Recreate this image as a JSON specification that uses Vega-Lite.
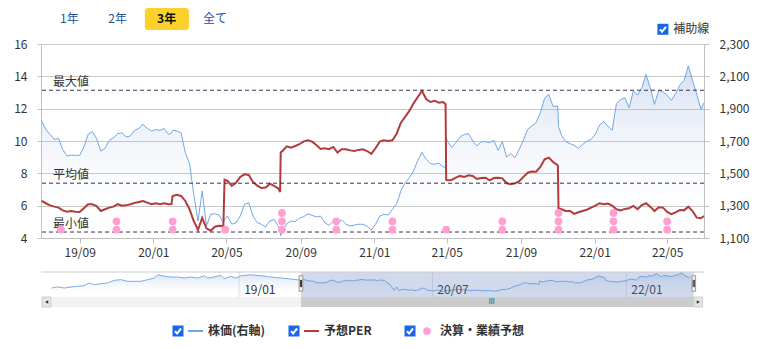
{
"$schema": "https://vega.github.io/schema/vega-lite/v6.json",
"background": "white",
"padding": {"left": 13, "top": 7, "right": 5, "bottom": 0},
"config": {
  "font": "Noto Sans CJK JP",
  "view": {"stroke": null},
  "axis": {"labelFont": "Noto Sans CJK JP", "labelFontSize": 12, "labelColor": "#333333", "title": null},
  "text": {"font": "Noto Sans CJK JP"}
},
"bounds": "flush",
"spacing": 14,
"datasets": {
  "px": [
    {"date":"2019-06-30","price":1824,"per":6.29},
    {"date":"2019-07-07","price":1770,"per":6.15},
    {"date":"2019-07-14","price":1741,"per":6.02},
    {"date":"2019-07-21","price":1710,"per":5.94},
    {"date":"2019-07-28","price":1716,"per":5.88},
    {"date":"2019-08-04","price":1648,"per":5.71},
    {"date":"2019-08-11","price":1607,"per":5.63},
    {"date":"2019-08-18","price":1613,"per":5.67},
    {"date":"2019-08-25","price":1611,"per":5.63},
    {"date":"2019-09-01","price":1611,"per":5.61},
    {"date":"2019-09-08","price":1663,"per":5.84},
    {"date":"2019-09-15","price":1741,"per":6.09},
    {"date":"2019-09-22","price":1758,"per":6.09},
    {"date":"2019-09-29","price":1716,"per":5.98},
    {"date":"2019-10-06","price":1638,"per":5.67},
    {"date":"2019-10-13","price":1655,"per":5.78},
    {"date":"2019-10-20","price":1704,"per":5.88},
    {"date":"2019-10-27","price":1721,"per":5.94},
    {"date":"2019-11-03","price":1745,"per":6.09},
    {"date":"2019-11-10","price":1751,"per":6.00},
    {"date":"2019-11-17","price":1725,"per":6.02},
    {"date":"2019-11-24","price":1731,"per":6.09},
    {"date":"2019-12-01","price":1766,"per":6.17},
    {"date":"2019-12-08","price":1778,"per":6.23},
    {"date":"2019-12-15","price":1803,"per":6.29},
    {"date":"2019-12-22","price":1778,"per":6.19},
    {"date":"2019-12-29","price":1762,"per":6.09},
    {"date":"2020-01-05","price":1770,"per":6.15},
    {"date":"2020-01-12","price":1766,"per":6.09},
    {"date":"2020-01-19","price":1778,"per":6.15},
    {"date":"2020-01-26","price":1741,"per":6.09},
    {"date":"2020-01-31","price":1750,"per":6.10},
    {"date":"2020-02-02","price":1766,"per":6.60},
    {"date":"2020-02-09","price":1762,"per":6.68},
    {"date":"2020-02-16","price":1751,"per":6.60},
    {"date":"2020-02-23","price":1628,"per":6.29},
    {"date":"2020-03-01","price":1560,"per":5.78},
    {"date":"2020-03-08","price":1370,"per":5.05},
    {"date":"2020-03-15","price":1205,"per":4.50},
    {"date":"2020-03-22","price":1391,"per":5.25},
    {"date":"2020-03-29","price":1174,"per":4.60},
    {"date":"2020-04-05","price":1246,"per":4.45},
    {"date":"2020-04-12","price":1250,"per":4.70},
    {"date":"2020-04-19","price":1242,"per":4.75},
    {"date":"2020-04-26","price":1195,"per":4.74},
    {"date":"2020-04-28","price":1215,"per":7.60},
    {"date":"2020-05-03","price":1236,"per":7.53},
    {"date":"2020-05-10","price":1185,"per":7.22},
    {"date":"2020-05-17","price":1195,"per":7.42},
    {"date":"2020-05-24","price":1236,"per":7.78},
    {"date":"2020-05-31","price":1308,"per":7.94},
    {"date":"2020-06-07","price":1318,"per":7.90},
    {"date":"2020-06-14","price":1236,"per":7.47},
    {"date":"2020-06-21","price":1195,"per":7.24},
    {"date":"2020-06-28","price":1185,"per":7.09},
    {"date":"2020-07-05","price":1168,"per":7.12},
    {"date":"2020-07-12","price":1205,"per":7.36},
    {"date":"2020-07-19","price":1215,"per":7.22},
    {"date":"2020-07-26","price":1174,"per":7.07},
    {"date":"2020-07-29","price":1150,"per":6.85},
    {"date":"2020-07-30","price":1115,"per":9.30},
    {"date":"2020-08-02","price":1143,"per":9.38},
    {"date":"2020-08-09","price":1189,"per":9.67},
    {"date":"2020-08-16","price":1205,"per":9.59},
    {"date":"2020-08-23","price":1201,"per":9.69},
    {"date":"2020-08-30","price":1222,"per":9.80},
    {"date":"2020-09-06","price":1232,"per":9.98},
    {"date":"2020-09-13","price":1250,"per":10.04},
    {"date":"2020-09-20","price":1240,"per":9.96},
    {"date":"2020-09-27","price":1230,"per":9.75},
    {"date":"2020-10-04","price":1236,"per":9.51},
    {"date":"2020-10-11","price":1195,"per":9.55},
    {"date":"2020-10-18","price":1178,"per":9.49},
    {"date":"2020-10-25","price":1205,"per":9.63},
    {"date":"2020-11-01","price":1199,"per":9.28},
    {"date":"2020-11-08","price":1211,"per":9.49},
    {"date":"2020-11-15","price":1185,"per":9.49},
    {"date":"2020-11-22","price":1174,"per":9.42},
    {"date":"2020-11-29","price":1180,"per":9.38},
    {"date":"2020-12-06","price":1185,"per":9.45},
    {"date":"2020-12-13","price":1185,"per":9.49},
    {"date":"2020-12-20","price":1174,"per":9.38},
    {"date":"2020-12-27","price":1150,"per":9.20},
    {"date":"2021-01-03","price":1185,"per":9.55},
    {"date":"2021-01-10","price":1236,"per":9.96},
    {"date":"2021-01-17","price":1246,"per":10.04},
    {"date":"2021-01-24","price":1242,"per":10.00},
    {"date":"2021-01-31","price":1277,"per":10.04},
    {"date":"2021-02-07","price":1312,"per":10.45},
    {"date":"2021-02-14","price":1391,"per":11.13},
    {"date":"2021-02-21","price":1442,"per":11.49},
    {"date":"2021-02-28","price":1473,"per":11.86},
    {"date":"2021-03-07","price":1514,"per":12.33},
    {"date":"2021-03-14","price":1580,"per":12.72},
    {"date":"2021-03-21","price":1628,"per":13.10},
    {"date":"2021-03-28","price":1587,"per":12.58},
    {"date":"2021-04-04","price":1560,"per":12.41},
    {"date":"2021-04-11","price":1556,"per":12.48},
    {"date":"2021-04-18","price":1564,"per":12.37},
    {"date":"2021-04-25","price":1539,"per":12.41},
    {"date":"2021-04-29","price":1540,"per":12.27},
    {"date":"2021-04-30","price":1720,"per":7.60},
    {"date":"2021-05-02","price":1700,"per":7.57},
    {"date":"2021-05-09","price":1659,"per":7.59},
    {"date":"2021-05-16","price":1690,"per":7.73},
    {"date":"2021-05-23","price":1725,"per":7.84},
    {"date":"2021-05-30","price":1741,"per":7.78},
    {"date":"2021-06-06","price":1745,"per":7.88},
    {"date":"2021-06-13","price":1700,"per":7.84},
    {"date":"2021-06-20","price":1669,"per":7.65},
    {"date":"2021-06-27","price":1696,"per":7.71},
    {"date":"2021-07-04","price":1696,"per":7.73},
    {"date":"2021-07-11","price":1690,"per":7.57},
    {"date":"2021-07-18","price":1704,"per":7.71},
    {"date":"2021-07-25","price":1642,"per":7.73},
    {"date":"2021-08-01","price":1696,"per":7.69},
    {"date":"2021-08-08","price":1601,"per":7.40},
    {"date":"2021-08-15","price":1622,"per":7.32},
    {"date":"2021-08-22","price":1597,"per":7.38},
    {"date":"2021-08-29","price":1648,"per":7.51},
    {"date":"2021-09-05","price":1706,"per":7.78},
    {"date":"2021-09-12","price":1772,"per":8.04},
    {"date":"2021-09-19","price":1793,"per":8.11},
    {"date":"2021-09-26","price":1814,"per":8.10},
    {"date":"2021-10-03","price":1875,"per":8.39},
    {"date":"2021-10-10","price":1964,"per":8.87},
    {"date":"2021-10-17","price":1989,"per":8.97},
    {"date":"2021-10-24","price":1914,"per":8.70},
    {"date":"2021-10-31","price":1917,"per":8.52},
    {"date":"2021-11-01","price":1900,"per":8.45},
    {"date":"2021-11-02","price":1790,"per":5.85},
    {"date":"2021-11-07","price":1735,"per":5.78},
    {"date":"2021-11-14","price":1696,"per":5.67},
    {"date":"2021-11-21","price":1684,"per":5.67},
    {"date":"2021-11-28","price":1673,"per":5.49},
    {"date":"2021-12-05","price":1655,"per":5.59},
    {"date":"2021-12-12","price":1679,"per":5.67},
    {"date":"2021-12-19","price":1698,"per":5.75},
    {"date":"2021-12-26","price":1710,"per":5.88},
    {"date":"2022-01-02","price":1741,"per":6.00},
    {"date":"2022-01-09","price":1799,"per":6.15},
    {"date":"2022-01-16","price":1820,"per":6.09},
    {"date":"2022-01-23","price":1791,"per":6.13},
    {"date":"2022-01-30","price":1766,"per":6.00},
    {"date":"2022-02-06","price":1931,"per":5.78},
    {"date":"2022-02-13","price":1956,"per":5.71},
    {"date":"2022-02-20","price":1968,"per":5.80},
    {"date":"2022-02-27","price":1906,"per":5.84},
    {"date":"2022-03-06","price":2009,"per":5.98},
    {"date":"2022-03-13","price":1985,"per":5.78},
    {"date":"2022-03-20","price":2030,"per":6.04},
    {"date":"2022-03-27","price":2112,"per":6.15},
    {"date":"2022-04-03","price":2030,"per":5.94},
    {"date":"2022-04-10","price":1927,"per":5.67},
    {"date":"2022-04-17","price":2013,"per":5.90},
    {"date":"2022-04-24","price":2005,"per":5.88},
    {"date":"2022-05-01","price":1983,"per":5.61},
    {"date":"2022-05-08","price":1952,"per":5.47},
    {"date":"2022-05-15","price":1993,"per":5.59},
    {"date":"2022-05-22","price":2046,"per":5.73},
    {"date":"2022-05-29","price":2075,"per":5.71},
    {"date":"2022-06-05","price":2165,"per":5.94},
    {"date":"2022-06-12","price":2075,"per":5.67},
    {"date":"2022-06-19","price":1989,"per":5.26},
    {"date":"2022-06-26","price":1896,"per":5.22},
    {"date":"2022-07-01","price":1937,"per":5.36}
  ],
  "hist": [
    {"date":"2017-07-19","price":1329},
    {"date":"2017-08-05","price":1384},
    {"date":"2017-08-24","price":1329},
    {"date":"2017-09-12","price":1384},
    {"date":"2017-10-01","price":1422},
    {"date":"2017-10-19","price":1457},
    {"date":"2017-11-02","price":1604},
    {"date":"2017-11-17","price":1512},
    {"date":"2017-12-05","price":1567},
    {"date":"2017-12-24","price":1604},
    {"date":"2018-01-12","price":1750},
    {"date":"2018-01-31","price":1786},
    {"date":"2018-02-19","price":1697},
    {"date":"2018-03-10","price":1697},
    {"date":"2018-03-29","price":1697},
    {"date":"2018-04-17","price":1786},
    {"date":"2018-05-06","price":1879},
    {"date":"2018-05-15","price":2060},
    {"date":"2018-06-03","price":1972},
    {"date":"2018-06-22","price":1934},
    {"date":"2018-07-11","price":1934},
    {"date":"2018-07-29","price":1879},
    {"date":"2018-08-17","price":1934},
    {"date":"2018-09-05","price":1879},
    {"date":"2018-09-24","price":2006},
    {"date":"2018-10-04","price":1879},
    {"date":"2018-10-22","price":1934},
    {"date":"2018-11-10","price":2027},
    {"date":"2018-11-19","price":1841},
    {"date":"2018-12-08","price":1972},
    {"date":"2018-12-22","price":1879},
    {"date":"2019-01-06","price":2006},
    {"date":"2019-02-03","price":2060},
    {"date":"2019-03-03","price":2006},
    {"date":"2019-03-31","price":1934},
    {"date":"2019-04-29","price":1879},
    {"date":"2019-05-27","price":1824},
    {"date":"2019-06-15","price":1780},
    {"date":"2019-06-30","price":1824}
  ],
  "events": [
    {"date":"2019-08-01","n":1},
    {"date":"2019-11-01","n":1},{"date":"2019-11-01","n":2},
    {"date":"2020-02-02","n":1},{"date":"2020-02-02","n":2},
    {"date":"2020-04-29","n":1},
    {"date":"2020-08-01","n":1},{"date":"2020-08-01","n":2},{"date":"2020-08-01","n":3},
    {"date":"2020-10-30","n":1},{"date":"2020-10-30","n":2},
    {"date":"2021-01-31","n":1},{"date":"2021-01-31","n":2},
    {"date":"2021-04-30","n":1},
    {"date":"2021-08-01","n":1},{"date":"2021-08-01","n":2},
    {"date":"2021-11-02","n":1},{"date":"2021-11-02","n":2},{"date":"2021-11-02","n":3},
    {"date":"2022-02-01","n":1},{"date":"2022-02-01","n":2},{"date":"2022-02-01","n":3},
    {"date":"2022-05-01","n":1},{"date":"2022-05-01","n":2}
  ],
  "lines": [
    {"label":"最大値","value":13.14},
    {"label":"平均値","value":7.39},
    {"label":"最小値","value":4.37}
  ],
  "sel": [{"start":"2019-06-25","end":"2022-07-11"}],
  "navticks": [
    {"date":"2019-01-01","label":"19/01"},
    {"date":"2020-07-01","label":"20/07"},
    {"date":"2022-01-01","label":"22/01"}
  ],
  "legend": [
    {"item":"株価(右軸)"},
    {"item":"予想PER"},
    {"item":"決算・業績予想"}
  ]
},
"vconcat": [
  {
    "width": 663,
    "height": 194,
    "layer": [
      {
        "data": {"name": "px"},
        "mark": {"type": "area", "line": {"color": "#6fa8e6", "strokeWidth": 1},
          "color": {"gradient": "linear", "x1": 0, "y1": 0, "x2": 0, "y2": 1,
            "stops": [{"offset": 0, "color": "rgba(105,140,205,0.40)"}, {"offset": 1, "color": "rgba(255,255,255,0)"}]}},
        "encoding": {
          "x": {"field": "date", "type": "temporal",
            "scale": {"type": "utc", "nice": false, "domain": [{"year":2019,"month":6,"date":29,"utc":true},{"year":2022,"month":7,"date":1,"utc":true}]},
            "axis": {"values": [
              {"year":2019,"month":9,"date":1,"utc":true},
              {"year":2020,"month":1,"date":1,"utc":true},
              {"year":2020,"month":5,"date":1,"utc":true},
              {"year":2020,"month":9,"date":1,"utc":true},
              {"year":2021,"month":1,"date":1,"utc":true},
              {"year":2021,"month":5,"date":1,"utc":true},
              {"year":2021,"month":9,"date":1,"utc":true},
              {"year":2022,"month":1,"date":1,"utc":true},
              {"year":2022,"month":5,"date":1,"utc":true}],
              "format": "%y/%m", "grid": false, "tickSize": 5, "tickColor": "#c0c0c0", "domainColor": "#c0c0c0",
              "labelPadding": 4, "labelFlush": false, "labelOverlap": false, "title": null}},
          "y": {"field": "price", "type": "quantitative",
            "scale": {"domain": [1100, 2300], "nice": false, "zero": false},
            "axis": {"orient": "right", "values": [1100,1300,1500,1700,1900,2100,2300], "format": ",d", "grid": false,
              "tickSize": 5, "tickColor": "#c0c0c0", "domainColor": "#c0c0c0", "labelPadding": 10, "title": null}},
          "y2": {"datum": 1100}
        }
      },
      {
        "data": {"name": "px"},
        "mark": {"type": "line", "color": "#b23b3b", "strokeWidth": 2},
        "encoding": {
          "x": {"field": "date", "type": "temporal"},
          "y": {"field": "per", "type": "quantitative", "scale": {"domain": [4, 16], "nice": false, "zero": false},
            "axis": {"orient": "left", "values": [4,6,8,10,12,14,16], "format": "d", "grid": true, "gridColor": "#c8c8c8",
              "tickSize": 4, "tickColor": "#c0c0c0", "domainColor": "#c0c0c0", "labelPadding": 10, "title": null}}
        }
      },
      {
        "data": {"name": "lines"},
        "mark": {"type": "rule", "color": "#3b2e58", "strokeDash": [4, 3], "strokeWidth": 1},
        "encoding": {
          "y": {"field": "value", "type": "quantitative", "scale": {"domain": [4, 16], "nice": false, "zero": false}, "axis": null}
        }
      },
      {
        "data": {"name": "lines"},
        "mark": {"type": "text", "align": "left", "baseline": "bottom", "dy": -1, "fontSize": 12, "color": "#333333"},
        "encoding": {
          "x": {"datum": {"year":2019,"month":7,"date":19,"utc":true}, "type": "temporal"},
          "y": {"field": "value", "type": "quantitative", "scale": {"domain": [4, 16], "nice": false, "zero": false}, "axis": null},
          "text": {"field": "label"}
        }
      },
      {
        "data": {"values": [{}]},
        "mark": {"type": "rect", "fill": "#fdd12b", "cornerRadius": 3},
        "encoding": {
          "x": {"datum": {"year":2019,"month":12,"date":18,"utc":true}, "type": "temporal"},
          "x2": {"datum": {"year":2020,"month":2,"date":29,"utc":true}},
          "y": {"datum": 18.23, "type": "quantitative", "scale": {"domain": [4, 16], "nice": false, "zero": false}, "axis": null},
          "y2": {"datum": 16.87}
        }
      },
      {
        "data": {"values": [{}]},
        "mark": {"type": "text", "text": "1年", "fontSize": 12, "color": "#24529f", "baseline": "middle"},
        "encoding": {
          "x": {"datum": {"year":2019,"month":8,"date":15,"utc":true}, "type": "temporal"},
          "y": {"datum": 17.55, "type": "quantitative", "scale": {"domain": [4, 16], "nice": false, "zero": false}, "axis": null}
        }
      },
      {
        "data": {"values": [{}]},
        "mark": {"type": "text", "text": "2年", "fontSize": 12, "color": "#24529f", "baseline": "middle"},
        "encoding": {
          "x": {"datum": {"year":2019,"month":11,"date":3,"utc":true}, "type": "temporal"},
          "y": {"datum": 17.55, "type": "quantitative", "scale": {"domain": [4, 16], "nice": false, "zero": false}, "axis": null}
        }
      },
      {
        "data": {"values": [{}]},
        "mark": {"type": "text", "text": "3年", "fontSize": 12, "fontWeight": "bold", "color": "#111111", "baseline": "middle"},
        "encoding": {
          "x": {"datum": {"year":2020,"month":1,"date":23,"utc":true}, "type": "temporal"},
          "y": {"datum": 17.55, "type": "quantitative", "scale": {"domain": [4, 16], "nice": false, "zero": false}, "axis": null}
        }
      },
      {
        "data": {"values": [{}]},
        "mark": {"type": "text", "text": "全て", "fontSize": 12, "color": "#24529f", "baseline": "middle"},
        "encoding": {
          "x": {"datum": {"year":2020,"month":4,"date":12,"utc":true}, "type": "temporal"},
          "y": {"datum": 17.55, "type": "quantitative", "scale": {"domain": [4, 16], "nice": false, "zero": false}, "axis": null}
        }
      },
      {
        "data": {"values": [{}]},
        "mark": {"type": "point", "shape": "square", "filled": true, "color": "#1767e8", "size": 121, "opacity": 1},
        "encoding": {
          "x": {"datum": {"year":2022,"month":4,"date":24,"utc":true}, "type": "temporal"},
          "y": {"datum": 16.91, "type": "quantitative", "scale": {"domain": [4, 16], "nice": false, "zero": false}, "axis": null}
        }
      },
      {
        "data": {"values": [{}]},
        "mark": {"type": "point", "shape": "M-0.6,0.02L-0.18,0.48L0.62,-0.5", "filled": false, "stroke": "#ffffff", "strokeWidth": 2, "size": 100, "opacity": 1},
        "encoding": {
          "x": {"datum": {"year":2022,"month":4,"date":24,"utc":true}, "type": "temporal"},
          "y": {"datum": 16.91, "type": "quantitative", "scale": {"domain": [4, 16], "nice": false, "zero": false}, "axis": null}
        }
      },
      {
        "data": {"values": [{}]},
        "mark": {"type": "text", "text": "補助線", "fontSize": 12, "color": "#333333", "align": "left", "baseline": "middle"},
        "encoding": {
          "x": {"datum": {"year":2022,"month":5,"date":11,"utc":true}, "type": "temporal"},
          "y": {"datum": 16.91, "type": "quantitative", "scale": {"domain": [4, 16], "nice": false, "zero": false}, "axis": null}
        }
      },
      {
        "data": {"name": "events"},
        "mark": {"type": "circle", "color": "#ffa0d0", "size": 60, "opacity": 1},
        "encoding": {
          "x": {"field": "date", "type": "temporal"},
          "y": {"field": "n", "type": "quantitative", "scale": {"domain": [0, 23.2], "nice": false, "zero": false}, "axis": null}
        }
      }
    ],
    "resolve": {"scale": {"y": "independent"}}
  },
  {
    "width": 663,
    "height": 55,
    "layer": [
      {
        "data": {"values": [{}]},
        "mark": {"type": "rect", "fill": "#f2f2f2"},
        "encoding": {
          "x": {"datum": {"year":2017,"month":6,"date":22,"utc":true}, "type": "temporal",
            "scale": {"type": "utc", "nice": false, "domain": [{"year":2017,"month":6,"date":19,"utc":true},{"year":2022,"month":8,"date":9,"utc":true}]}, "axis": null},
          "x2": {"datum": {"year":2022,"month":8,"date":5,"utc":true}},
          "y": {"datum": 834, "type": "quantitative", "scale": {"domain": [284, 3309], "nice": false, "zero": false}, "axis": null},
          "y2": {"datum": 284}
        }
      },
      {
        "data": {"name": "sel"},
        "mark": {"type": "rect", "fill": "#cccccc"},
        "encoding": {
          "x": {"field": "start", "type": "temporal", "axis": null},
          "x2": {"field": "end"},
          "y": {"datum": 834, "type": "quantitative", "axis": null},
          "y2": {"datum": 284}
        }
      },
      {
        "data": {"values": [{}]},
        "mark": {"type": "rect", "fill": "#e6e6e6", "stroke": "#cccccc", "strokeWidth": 1},
        "encoding": {
          "x": {"datum": {"year":2017,"month":6,"date":22,"utc":true}, "type": "temporal", "axis": null},
          "x2": {"datum": {"year":2017,"month":7,"date":17,"utc":true}},
          "y": {"datum": 834, "type": "quantitative", "axis": null},
          "y2": {"datum": 284}
        }
      },
      {
        "data": {"values": [{}]},
        "mark": {"type": "rect", "fill": "#e6e6e6", "stroke": "#cccccc", "strokeWidth": 1},
        "encoding": {
          "x": {"datum": {"year":2022,"month":7,"date":12,"utc":true}, "type": "temporal", "axis": null},
          "x2": {"datum": {"year":2022,"month":8,"date":5,"utc":true}},
          "y": {"datum": 834, "type": "quantitative", "axis": null},
          "y2": {"datum": 284}
        }
      },
      {
        "data": {"values": [{}]},
        "mark": {"type": "point", "shape": "triangle-left", "filled": true, "color": "#333333", "size": 14, "opacity": 1},
        "encoding": {
          "x": {"datum": {"year":2017,"month":7,"date":5,"utc":true}, "type": "temporal", "axis": null},
          "y": {"datum": 559, "type": "quantitative", "axis": null}
        }
      },
      {
        "data": {"values": [{}]},
        "mark": {"type": "point", "shape": "triangle-right", "filled": true, "color": "#333333", "size": 14, "opacity": 1},
        "encoding": {
          "x": {"datum": {"year":2022,"month":7,"date":24,"utc":true}, "type": "temporal", "axis": null},
          "y": {"datum": 559, "type": "quantitative", "axis": null}
        }
      },
      {
        "data": {"values": [{}]},
        "mark": {"type": "text", "text": "III", "fontSize": 7, "color": "#333333", "baseline": "middle"},
        "encoding": {
          "x": {"datum": {"year":2020,"month":12,"date":16,"utc":true}, "type": "temporal", "axis": null},
          "y": {"datum": 559, "type": "quantitative", "axis": null}
        }
      },
      {
        "data": {"name": "navticks"},
        "mark": {"type": "rule", "color": "#e0e0e0"},
        "encoding": {
          "x": {"field": "date", "type": "temporal", "axis": null},
          "y": {"datum": 2209, "type": "quantitative", "axis": null},
          "y2": {"datum": 834}
        }
      },
      {
        "data": {"name": "hist"},
        "mark": {"type": "area", "line": {"color": "#78aee8", "strokeWidth": 1},
          "color": {"gradient": "linear", "x1": 0, "y1": 0, "x2": 0, "y2": 1,
            "stops": [{"offset": 0, "color": "rgba(110,150,215,0.35)"}, {"offset": 1, "color": "rgba(255,255,255,0)"}]}},
        "encoding": {
          "x": {"field": "date", "type": "temporal", "axis": null},
          "y": {"field": "price", "type": "quantitative", "axis": null},
          "y2": {"datum": 834}
        }
      },
      {
        "data": {"name": "px"},
        "mark": {"type": "area", "line": {"color": "#78aee8", "strokeWidth": 1},
          "color": {"gradient": "linear", "x1": 0, "y1": 0, "x2": 0, "y2": 1,
            "stops": [{"offset": 0, "color": "rgba(110,150,215,0.35)"}, {"offset": 1, "color": "rgba(255,255,255,0)"}]}},
        "encoding": {
          "x": {"field": "date", "type": "temporal", "axis": null},
          "y": {"field": "price", "type": "quantitative", "axis": null},
          "y2": {"datum": 834}
        }
      },
      {
        "data": {"name": "navticks"},
        "mark": {"type": "text", "align": "left", "baseline": "middle", "dx": 5, "fontSize": 12, "color": "#333333"},
        "encoding": {
          "x": {"field": "date", "type": "temporal", "axis": null},
          "y": {"datum": 1236, "type": "quantitative", "axis": null},
          "text": {"field": "label"}
        }
      },
      {
        "data": {"name": "sel"},
        "mark": {"type": "rect", "fill": "#6685c2", "fillOpacity": 0.3},
        "encoding": {
          "x": {"field": "start", "type": "temporal", "axis": null},
          "x2": {"field": "end"},
          "y": {"datum": 2209, "type": "quantitative", "axis": null},
          "y2": {"datum": 834}
        }
      },
      {
        "data": {"values": [{}]},
        "mark": {"type": "rule", "color": "#cccccc"},
        "encoding": {
          "y": {"datum": 2209, "type": "quantitative", "axis": null}
        }
      },
      {
        "data": {"name": "sel"},
        "mark": {"type": "point", "shape": "M-0.23,-0.97H0.23V0.97H-0.23Z", "filled": true, "fill": "#f2f2f2", "stroke": "#999999", "strokeWidth": 1, "size": 256, "opacity": 1},
        "encoding": {
          "x": {"field": "start", "type": "temporal", "axis": null},
          "y": {"datum": 1576, "type": "quantitative", "axis": null}
        }
      },
      {
        "data": {"name": "sel"},
        "mark": {"type": "point", "shape": "M-0.23,-0.97H0.23V0.97H-0.23Z", "filled": true, "fill": "#f2f2f2", "stroke": "#999999", "strokeWidth": 1, "size": 256, "opacity": 1},
        "encoding": {
          "x": {"field": "end", "type": "temporal", "axis": null},
          "y": {"datum": 1576, "type": "quantitative", "axis": null}
        }
      },
      {
        "data": {"name": "sel"},
        "mark": {"type": "point", "shape": "M-0.07,-0.45V0.45M0.07,-0.45V0.45", "filled": false, "stroke": "#333333", "strokeWidth": 1, "size": 256, "opacity": 1},
        "encoding": {
          "x": {"field": "start", "type": "temporal", "axis": null},
          "y": {"datum": 1576, "type": "quantitative", "axis": null}
        }
      },
      {
        "data": {"name": "sel"},
        "mark": {"type": "point", "shape": "M-0.07,-0.45V0.45M0.07,-0.45V0.45", "filled": false, "stroke": "#333333", "strokeWidth": 1, "size": 256, "opacity": 1},
        "encoding": {
          "x": {"field": "end", "type": "temporal", "axis": null},
          "y": {"datum": 1576, "type": "quantitative", "axis": null}
        }
      }
    ]
  },
  {
    "width": 663,
    "height": 20,
    "data": {"name": "legend"},
    "encoding": {
      "x": {"field": "item", "type": "nominal", "sort": null,
        "scale": {"type": "point", "domain": ["株価(右軸)", "予想PER", "決算・業績予想"], "range": [137, 369], "padding": 0},
        "axis": null}
    },
    "layer": [
      {"mark": {"type": "point", "shape": "square", "filled": true, "color": "#1767e8", "size": 121, "opacity": 1}},
      {"mark": {"type": "point", "shape": "M-0.6,0.02L-0.18,0.48L0.62,-0.5", "filled": false, "stroke": "#ffffff", "strokeWidth": 2, "size": 100, "opacity": 1}},
      {
        "transform": [{"filter": "datum.item !== '決算・業績予想'"}],
        "mark": {"type": "point", "shape": "stroke", "filled": false, "strokeWidth": 2, "size": 225, "xOffset": 17.5, "opacity": 1},
        "encoding": {
          "color": {"field": "item", "type": "nominal", "scale": {"domain": ["株価(右軸)", "予想PER"], "range": ["#6fa8e6", "#b23b3b"]}, "legend": null}
        }
      },
      {
        "transform": [{"filter": "datum.item === '決算・業績予想'"}],
        "mark": {"type": "circle", "color": "#ffa0d0", "size": 60, "xOffset": 17, "opacity": 1}
      },
      {
        "mark": {"type": "text", "align": "left", "baseline": "middle", "dx": 30, "fontSize": 12, "fontWeight": "bold", "color": "#333333"},
        "encoding": {"text": {"field": "item"}}
      }
    ]
  }
]
}
